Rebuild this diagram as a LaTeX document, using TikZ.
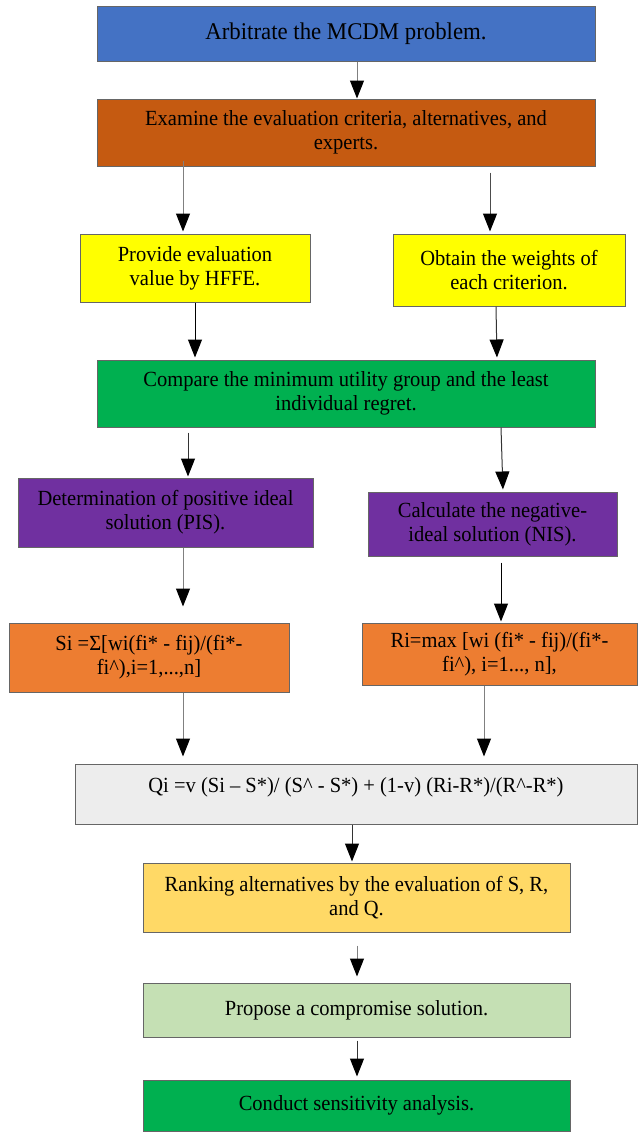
\documentclass[tikz,border=0pt]{standalone}
\usepackage{fontspec}
\setmainfont[FakeStretch=0.95]{Liberation Serif}
\usetikzlibrary{arrows.meta}

\definecolor{stepblue}{HTML}{4472C4}
\definecolor{steprust}{HTML}{C55A11}
\definecolor{stepyellow}{HTML}{FFFF00}
\definecolor{stepgreen}{HTML}{00B050}
\definecolor{steppurple}{HTML}{7030A0}
\definecolor{steporange}{HTML}{ED7D31}
\definecolor{stepgray}{HTML}{EDEDED}
\definecolor{stepgold}{HTML}{FFD966}
\definecolor{steplime}{HTML}{C5E0B4}

\begin{document}
\begin{tikzpicture}[x=0.5pt, y=-0.5pt,
    stagebox/.style={draw=black!60, line width=0.5pt, inner sep=1pt, align=center,
        font=\fontsize{10.8}{12}\selectfont},
    flow/.style={line width=0.5pt, -{Triangle[width=7pt, length=9pt, color=black]}}]
    \useasboundingbox (0,0) rectangle (638,1132);

    % Problem set-up
    \node[stagebox, fill=stepblue, minimum width=249pt, minimum height=27.5pt,
        font=\fontsize{12}{14}\selectfont] (arbitrate) at (346,33.5)
        {Arbitrate the MCDM problem.};
    \node[stagebox, fill=steprust, minimum width=249pt, minimum height=33.5pt] (examine) at (346,132.5)
        {Examine the evaluation criteria, alternatives, and\\experts.};

    % Two branches
    \node[stagebox, fill=stepyellow, minimum width=115pt, minimum height=34pt] (hffe) at (195,268)
        {Provide evaluation\\value by HFFE.};
    \node[stagebox, fill=stepyellow, minimum width=116pt, minimum height=36pt] (weights) at (509,270)
        {Obtain the weights of\\each criterion.};
    \node[stagebox, fill=stepgreen, minimum width=249pt, minimum height=33.5pt] (compare) at (346,393.5)
        {Compare the minimum utility group and the least\\individual regret.};

    % Ideal solutions
    \node[stagebox, fill=steppurple, minimum width=147.5pt, minimum height=34.5pt] (pis) at (165.5,512.5)
        {Determination of positive ideal\\solution (PIS).};
    \node[stagebox, fill=steppurple, minimum width=124.5pt, minimum height=32pt] (nis) at (492.5,524)
        {Calculate the negative-\\ideal solution (NIS).};
    \node[stagebox, fill=steporange, minimum width=140pt, minimum height=34.5pt] (sval) at (149,657.5)
        {Si =Σ[wi(fi* - fij)/(fi*-\\fi\^{}),i=1,...,n]};
    \node[stagebox, fill=steporange, minimum width=137.5pt, minimum height=31pt] (rval) at (499.5,654)
        {Ri=max [wi (fi* - fij)/(fi*-\\fi\^{}), i=1..., n],};

    % Ranking and result
    \node[stagebox, fill=stepgray, minimum width=281pt, minimum height=30pt, text depth=9pt] (qval) at (356,794)
        {Qi =v (Si – S*)/ (S\^{} - S*) + (1-v) (Ri-R*)/(R\^{}-R*)};
    \node[stagebox, fill=stepgold, minimum width=213.5pt, minimum height=34.5pt] (rank) at (356.5,897.5)
        {Ranking alternatives by the evaluation of S, R,\\and Q.};
    \node[stagebox, fill=steplime, minimum width=213.5pt, minimum height=27pt] (propose) at (356.5,1010)
        {Propose a compromise solution.};
    \node[stagebox, fill=stepgreen, minimum width=213.5pt, minimum height=25.5pt] (sensitivity) at (356.5,1105.5)
        {Conduct sensitivity analysis.};

    % Arrows
    \draw[flow, gray] (357,0 |- arbitrate.south) -- (357,0 |- examine.north);
    \draw[flow, gray, shorten <=-3pt, shorten >=1pt] (183,0 |- examine.south) -- (183,0 |- hffe.north);
    \draw[flow, black!70, shorten <=3pt, shorten >=1pt] (490,0 |- examine.south) -- (490,0 |- weights.north);
    \draw[flow, shorten >=1pt] (195,0 |- hffe.south) -- (195,0 |- compare.north);
    \draw[flow, black!80, shorten >=1pt] (496,0 |- weights.south) -- (497,0 |- compare.north);
    \draw[flow, black!80, shorten <=2.5pt, shorten >=0.5pt] (188,0 |- compare.south) -- (188,0 |- pis.north);
    \draw[flow, black!80, shorten >=1pt] (501,0 |- compare.south) -- (503,0 |- nis.north);
    \draw[flow, gray, shorten >=8pt] (183,0 |- pis.south) -- (183,0 |- sval.north);
    \draw[flow, shorten <=3pt, shorten >=0.5pt] (501,0 |- nis.south) -- (501,0 |- rval.north);
    \draw[flow, gray, shorten >=3.5pt] (183,0 |- sval.south) -- (183,0 |- qval.north);
    \draw[flow, gray, shorten >=3.5pt] (484,0 |- rval.south) -- (484,0 |- qval.north);
    \draw[flow, black!80, shorten >=0.5pt] (352,0 |- qval.south) -- (352,0 |- rank.north);
    \draw[flow, gray, shorten <=6.5pt, shorten >=3pt] (357,0 |- rank.south) -- (357,0 |- propose.north);
    \draw[flow, black!80, shorten <=1.5pt, shorten >=1.5pt] (357,0 |- propose.south) -- (357,0 |- sensitivity.north);
\end{tikzpicture}
\end{document}
